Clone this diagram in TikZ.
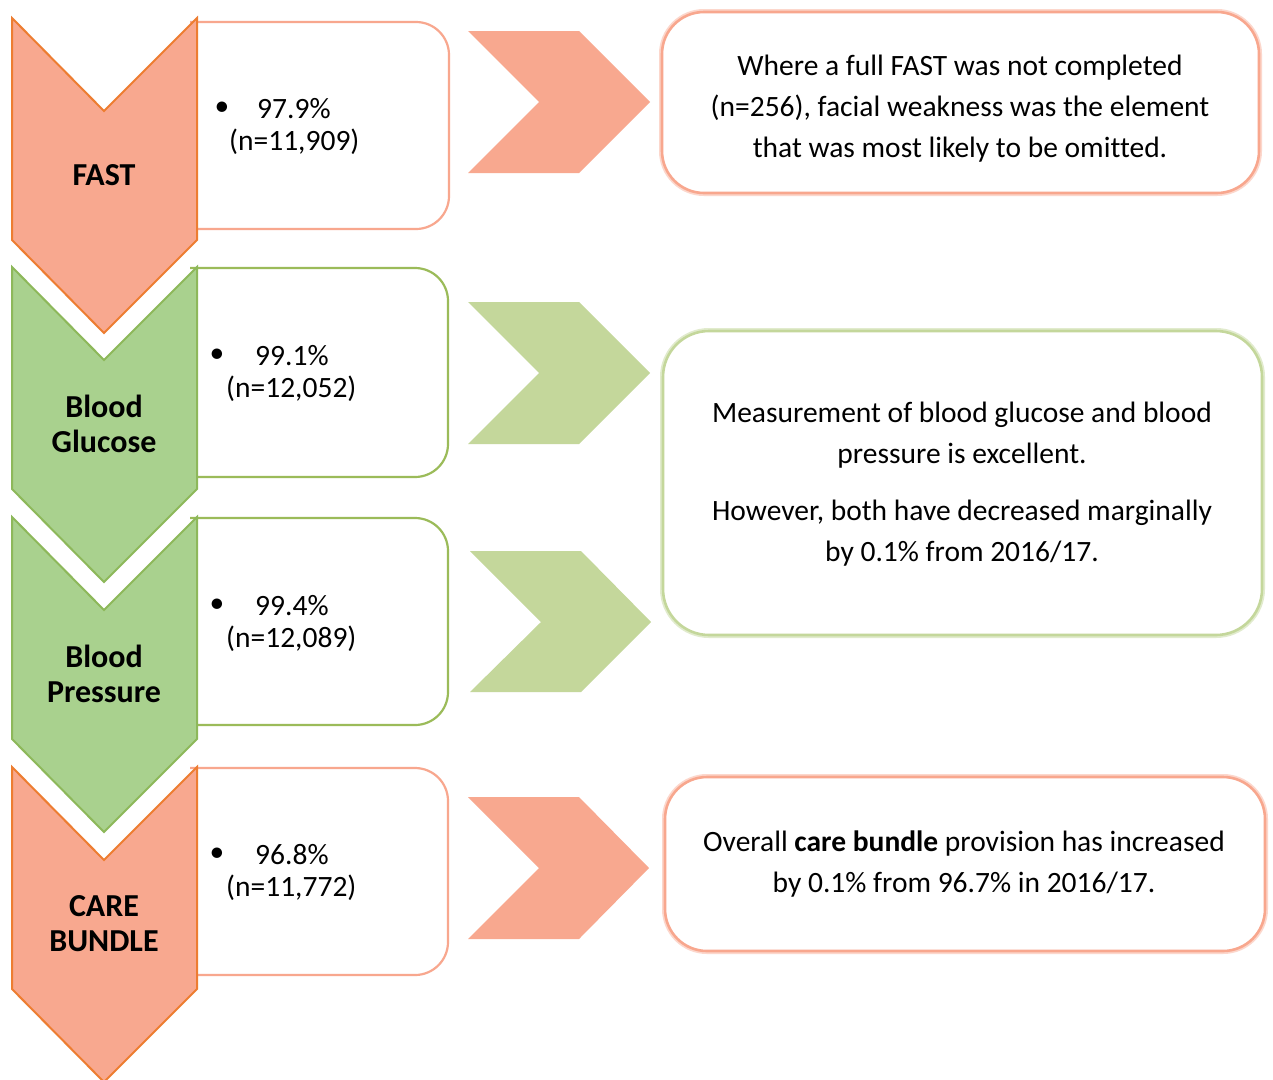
\documentclass[tikz,border=0pt]{standalone}
\usepackage{fontspec}
\setmainfont{Carlito}[Ligatures={NoCommon}]
\definecolor{oFill}{HTML}{F8A88F}
\definecolor{oLine}{HTML}{ED7D31}
\definecolor{oBox}{HTML}{F8A78E}
\definecolor{gFill}{HTML}{A9D18E}
\definecolor{gLine}{HTML}{8DB85A}
\definecolor{gBox}{HTML}{9BBB59}
\definecolor{gArr}{HTML}{C4D79B}
\begin{document}
\begin{tikzpicture}[x=1pt,y=-1pt,
  chevO/.style={fill=oFill,draw=oLine,line width=2pt,line join=miter},
  chevG/.style={fill=gFill,draw=gLine,line width=2pt,line join=miter},
  lboxO/.style={draw=oBox,line width=2.2pt,rounded corners=33pt},
  lboxG/.style={draw=gBox,line width=2.2pt,rounded corners=33pt},
  rglowO/.style={draw=oBox!45,line width=6pt,rounded corners=42pt},
  rboxO/.style={draw=oBox,line width=2.6pt,fill=white,rounded corners=42pt},
  rglowG/.style={draw=gArr!50,line width=6pt,rounded corners=46pt},
  rboxG/.style={draw=gArr,line width=2.6pt,fill=white,rounded corners=46pt},
  arrO/.style={fill=oFill},
  arrG/.style={fill=gArr},
  lab/.style={align=center,inner sep=0pt,font={\fontsize{32}{35}\selectfont\bfseries}},
  bul/.style={inner sep=0pt,font={\fontsize{29.5}{34}\selectfont}},
  btxt/.style={anchor=base west,inner sep=0pt,font={\fontsize{29.5}{34}\selectfont}},
  rtxt/.style={align=center,inner sep=0pt,font={\fontsize{29.5}{41}\selectfont}}
]
\useasboundingbox (0,0) rectangle (1273,1079);
\fill[white] (0,0) rectangle (1273,1079);

% left rounded boxes (left side hidden by chevrons)
\draw[lboxO] (190,22) -- (449,22) -- (449,229) -- (190,229);
\draw[lboxG] (190,268) -- (448,268) -- (448,477) -- (190,477);
\draw[lboxG] (190,518) -- (448,518) -- (448,725) -- (190,725);
\draw[lboxO] (190,768) -- (448,768) -- (448,975) -- (190,975);

% down chevrons
\draw[chevO] (12,18) -- (104,111) -- (197,18) -- (197,240) -- (104,333) -- (12,240) -- cycle;
\draw[chevG] (12,267) -- (104,360) -- (197,267) -- (197,489) -- (104,582) -- (12,489) -- cycle;
\draw[chevG] (12,517) -- (104,610) -- (197,517) -- (197,739) -- (104,832) -- (12,739) -- cycle;
\draw[chevO] (12,767) -- (104,860) -- (197,767) -- (197,989) -- (104,1082) -- (12,989) -- cycle;

% chevron labels
\node[lab] (fast) at (104,175) {FAST};
\node[lab] (glu) at (104,424) {Blood\\Glucose};
\node[lab] (pres) at (104,674) {Blood\\Pressure};
\node[lab] (care) at (104,924) {CARE\\BUNDLE};

% bullet texts
\node[bul] (b1) at (222,109) {\textbullet};
\node[btxt] (p1) at (257,118) {97.9\%};
\node[btxt] (n1) at (229,150) {(n=11,909)};
\node[bul] (b2) at (217,356) {\textbullet};
\node[btxt] (p2) at (255,365) {99.1\%};
\node[btxt] (n2) at (226,397) {(n=12,052)};
\node[bul] (b3) at (217,606) {\textbullet};
\node[btxt] (p3) at (255,615) {99.4\%};
\node[btxt] (n3) at (226,647) {(n=12,089)};
\node[bul] (b4) at (217,855) {\textbullet};
\node[btxt] (p4) at (255,864) {96.8\%};
\node[btxt] (n4) at (226,896) {(n=11,772)};

% right-pointing chevrons
\fill[arrO] (468,31) -- (579,31) -- (650,102) -- (579,173) -- (468,173) -- (539,102) -- cycle;
\fill[arrG] (468,302) -- (579,302) -- (650,373) -- (579,444) -- (468,444) -- (539,373) -- cycle;
\fill[arrG] (470,551) -- (581,551) -- (651,622) -- (581,692) -- (470,692) -- (541,622) -- cycle;
\fill[arrO] (468,797) -- (579,797) -- (649,868) -- (579,939) -- (468,939) -- (539,868) -- cycle;

% right boxes
\draw[rglowO] (662,12) rectangle (1259,193);
\draw[rboxO] (662,12) rectangle (1259,193);
\draw[rglowG] (663,331) rectangle (1262,635);
\draw[rboxG] (663,331) rectangle (1262,635);
\draw[rglowO] (665,777) rectangle (1265,951);
\draw[rboxO] (665,777) rectangle (1265,951);

\node[rtxt] (t1) at (960,109) {Where a full FAST was not completed\\(n=256), facial weakness was the element\\that was most likely to be omitted.};
\node[rtxt] (t2) at (962,484) {Measurement of blood glucose and blood\\pressure is excellent.\\[16pt]However, both have decreased marginally\\by 0.1\% from 2016/17.};
\node[rtxt] (t3) at (964,864) {Overall \textbf{care bundle} provision has increased\\by 0.1\% from 96.7\% in 2016/17.};
\end{tikzpicture}
\end{document}
